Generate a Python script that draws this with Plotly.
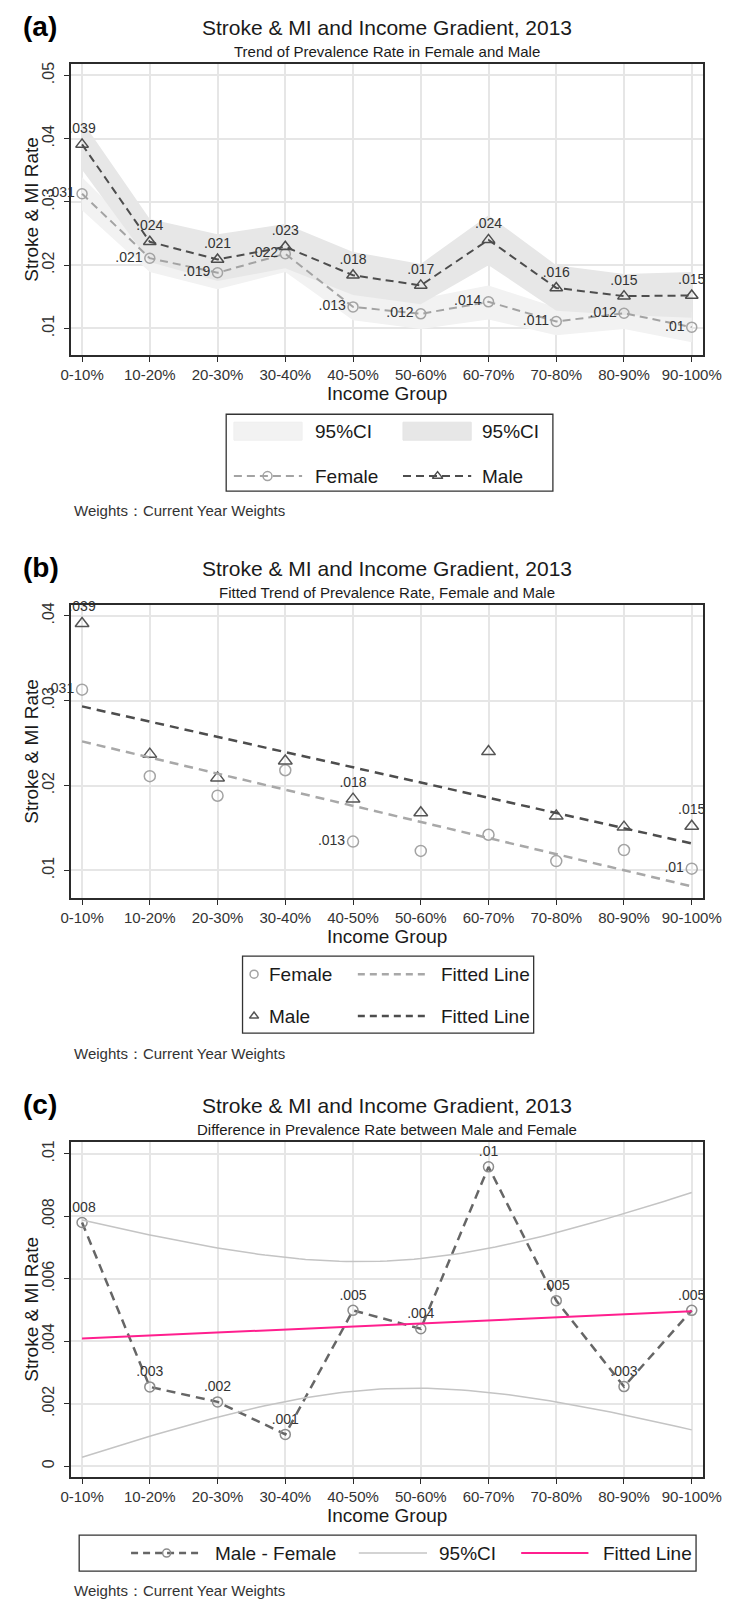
import numpy as np
import plotly.graph_objects as go

W, H = 741, 1599
FONT = "Liberation Sans, Arial, Helvetica, sans-serif"

# ---------------------------------------------------------------- data
income_groups = ["0-10%", "10-20%", "20-30%", "30-40%", "40-50%",
                 "50-60%", "60-70%", "70-80%", "80-90%", "90-100%"]

female_rate = [0.0313, 0.0211, 0.0188, 0.0218, 0.0134, 0.0123, 0.0142, 0.0111, 0.0124, 0.0102]
male_rate = [0.0391, 0.0237, 0.0209, 0.0229, 0.0184, 0.0168, 0.0240, 0.0164, 0.0151, 0.0152]

female_ci_low = [0.0287, 0.0189, 0.0162, 0.0189, 0.0113, 0.0099, 0.0114, 0.0089, 0.0099, 0.0078]
female_ci_high = [0.0339, 0.0233, 0.0214, 0.0247, 0.0155, 0.0147, 0.0168, 0.0133, 0.0149, 0.0126]
male_ci_low = [0.0351, 0.0205, 0.0175, 0.0195, 0.0153, 0.0138, 0.0200, 0.0128, 0.0121, 0.0117]
male_ci_high = [0.0428, 0.0273, 0.0249, 0.0265, 0.0221, 0.0202, 0.0279, 0.0200, 0.0186, 0.0189]

male_minus_female = [0.0078, 0.00254, 0.00206, 0.00102, 0.00499, 0.0044, 0.00958, 0.0053, 0.00255, 0.00499]

labelled_in_b = [0, 4, 9]          # points carrying a value label in panel (b)
T_CRIT_DF8 = 2.306                 # t(0.975, 8) for the lfitci band

yticks_a = [0.01, 0.02, 0.03, 0.04, 0.05]
yticks_b = [0.01, 0.02, 0.03, 0.04]
yticks_c = [0, 0.002, 0.004, 0.006, 0.008, 0.01]

title_main = "Stroke & MI and Income Gradient, 2013"
subtitles = ["Trend of Prevalence Rate in Female and Male",
             "Fitted Trend of Prevalence Rate, Female and Male",
             "Difference in Prevalence Rate between Male and Female"]
panel_tags = ["(a)", "(b)", "(c)"]
x_title = "Income Group"
y_title = "Stroke & MI Rate"
note_text = "Weights\uff1aCurrent Year Weights"


def stata_fmt(v):
    """Stata-like value label: .039, .01, 0"""
    if abs(v) < 1e-12:
        return "0"
    s = f"{v:.3f}".rstrip("0").rstrip(".")
    return s[1:] if s.startswith("0") else s


# ---------------------------------------------------------------- geometry (pixels)
PLOT_L, PLOT_R = 63, 721
panel_px = [(61, 353), (603, 897), (1141, 1477)]   # top, bottom of each plot frame
y_ranges = [[0.00574, 0.05183], [0.00671, 0.04129], [-0.00035, 0.01038]]
x_range = [-0.17, 9.163]

def xp(px):
    return px / W

def yp(py):
    return 1 - py / H

xs = np.arange(len(income_groups))

fig = go.Figure()

LABEL_FONT = dict(family=FONT, size=14, color="#333333")
FEMALE_C = "#a3a3a3"
MALE_C = "#4d4d4d"

# ---------------------------------------------------------------- panel (a)
band_x = list(xs) + list(xs[::-1])
fig.add_trace(go.Scatter(
    x=band_x, y=female_ci_high + female_ci_low[::-1], fill="toself",
    fillcolor="#f2f2f2", line=dict(width=0), mode="lines",
    hoverinfo="skip", xaxis="x", yaxis="y"))
fig.add_trace(go.Scatter(
    x=band_x, y=male_ci_high + male_ci_low[::-1], fill="toself",
    fillcolor="#e7e7e7", line=dict(width=0), mode="lines",
    hoverinfo="skip", xaxis="x", yaxis="y"))
fig.add_trace(go.Scatter(
    x=xs, y=female_rate, mode="lines+markers+text", cliponaxis=False,
    line=dict(color=FEMALE_C, width=2, dash="8px,5px"),
    marker=dict(symbol="circle-open", size=10, color=FEMALE_C, line=dict(width=1.5)),
    text=[stata_fmt(v) for v in female_rate], textposition="middle left",
    textfont=LABEL_FONT, xaxis="x", yaxis="y"))
fig.add_trace(go.Scatter(
    x=xs, y=male_rate, mode="lines+markers+text", cliponaxis=False,
    line=dict(color=MALE_C, width=2, dash="8px,5px"),
    marker=dict(symbol="triangle-up-open", size=11, color=MALE_C, line=dict(width=1.5)),
    text=[stata_fmt(v) for v in male_rate], textposition="top center",
    textfont=LABEL_FONT, xaxis="x", yaxis="y"))

# ---------------------------------------------------------------- panel (b)
fit_f = np.polyfit(xs, female_rate, 1)
fit_m = np.polyfit(xs, male_rate, 1)
fig.add_trace(go.Scatter(
    x=xs, y=female_rate, mode="markers+text", cliponaxis=False,
    marker=dict(symbol="circle-open", size=11, color=FEMALE_C, line=dict(width=1.5)),
    text=[stata_fmt(v) if i in labelled_in_b else "" for i, v in enumerate(female_rate)],
    textposition="middle left", textfont=LABEL_FONT, xaxis="x2", yaxis="y2"))
fig.add_trace(go.Scatter(
    x=xs, y=male_rate, mode="markers+text", cliponaxis=False,
    marker=dict(symbol="triangle-up-open", size=12, color="#555555", line=dict(width=1.5)),
    text=[stata_fmt(v) if i in labelled_in_b else "" for i, v in enumerate(male_rate)],
    textposition="top center", textfont=LABEL_FONT, xaxis="x2", yaxis="y2"))
fig.add_trace(go.Scatter(
    x=xs, y=np.polyval(fit_f, xs), mode="lines",
    line=dict(color="#a8a8a8", width=2.5, dash="9px,6px"),
    hoverinfo="skip", xaxis="x2", yaxis="y2"))
fig.add_trace(go.Scatter(
    x=xs, y=np.polyval(fit_m, xs), mode="lines",
    line=dict(color="#4d4d4d", width=2.5, dash="9px,6px"),
    hoverinfo="skip", xaxis="x2", yaxis="y2"))

# ---------------------------------------------------------------- panel (c)
d = np.asarray(male_minus_female)
fit_d = np.polyfit(xs, d, 1)
resid = d - np.polyval(fit_d, xs)
n = len(d)
s = np.sqrt(np.sum(resid ** 2) / (n - 2))
sxx = np.sum((xs - xs.mean()) ** 2)
xg = np.linspace(0, 9, 91)
yg = np.polyval(fit_d, xg)
half = T_CRIT_DF8 * s * np.sqrt(1 / n + (xg - xs.mean()) ** 2 / sxx)

fig.add_trace(go.Scatter(
    x=xs, y=male_minus_female, mode="lines+markers+text", cliponaxis=False,
    line=dict(color="#666666", width=2.5, dash="9px,6px"),
    marker=dict(symbol="circle-open", size=10, color="#8c8c8c", line=dict(width=1.5)),
    text=[stata_fmt(v) for v in male_minus_female], textposition="top center",
    textfont=LABEL_FONT, xaxis="x3", yaxis="y3"))
for band in (yg + half, yg - half):
    fig.add_trace(go.Scatter(
        x=xg, y=band, mode="lines", line=dict(color="#c4c4c4", width=1.5),
        hoverinfo="skip", xaxis="x3", yaxis="y3"))
fig.add_trace(go.Scatter(
    x=xg, y=yg, mode="lines", line=dict(color="#ff1f8e", width=2),
    hoverinfo="skip", xaxis="x3", yaxis="y3"))

# ---------------------------------------------------------------- legend keys (pixel overlay)
def key_line(x0, x1, y, color, width, dash="8px,5px"):
    fig.add_trace(go.Scatter(x=[x0, x1], y=[y, y], mode="lines",
                             line=dict(color=color, width=width, dash=dash),
                             hoverinfo="skip", xaxis="x4", yaxis="y4"))

def key_marker(x, y, symbol, color, size):
    fig.add_trace(go.Scatter(x=[x], y=[y], mode="markers",
                             marker=dict(symbol=symbol, size=size, color=color,
                                         line=dict(width=1.5)),
                             hoverinfo="skip", xaxis="x4", yaxis="y4"))

shapes = []
annotations = []

def box(x0, y0, x1, y1, line="#333333", fill="rgba(0,0,0,0)", lw=1.3):
    shapes.append(dict(type="rect", xref="x4", yref="y4", x0=x0, y0=y0, x1=x1, y1=y1,
                       line=dict(color=line, width=lw), fillcolor=fill, layer="above"))

def text(x, y, s, size, anchor="left", color="#1a1a1a", angle=0):
    annotations.append(dict(x=x, y=y, xref="x4", yref="y4", text=s, showarrow=False,
                            xanchor=anchor, yanchor="middle", textangle=angle,
                            font=dict(family=FONT, size=size, color=color)))

# (a)
box(225, 412, 565, 489)
box(233, 420, 304, 438, line="#efefef", fill="#f2f2f2", lw=1)
box(409, 420, 480, 438, line="#e4e4e4", fill="#e7e7e7", lw=1)
text(315, 429, "95%CI", 19)
text(489, 429, "95%CI", 19)
key_line(233, 304, 474, FEMALE_C, 2)
key_marker(268, 474, "circle-open", FEMALE_C, 9)
key_line(409, 480, 474, MALE_C, 2)
key_marker(445, 474, "triangle-up-open", MALE_C, 9)
text(315, 474, "Female", 19)
text(489, 474, "Male", 19)

# (b)
box(242, 955, 545, 1032)
key_marker(254, 973, "circle-open", FEMALE_C, 8)
text(267, 973, "Female", 19)
key_line(362, 434, 973, "#a8a8a8", 2.5, "7px,5px")
text(446, 973, "Fitted Line", 19)
key_marker(254, 1015, "triangle-up-open", "#555555", 8)
text(267, 1015, "Male", 19)
key_line(362, 434, 1015, "#4d4d4d", 2.5, "7px,5px")
text(446, 1015, "Fitted Line", 19)

# (c)
box(72, 1535, 714, 1571)
key_line(126, 199, 1553, "#666666", 2.5, "7px,5px")
key_marker(163, 1553, "circle-open", "#8c8c8c", 8)
text(211, 1553, "Male - Female", 19)
key_line(363, 434, 1553, "#c4c4c4", 1.5, "solid")
text(444, 1553, "95%CI", 19)
key_line(532, 602, 1553, "#ff1f8e", 2, "solid")
text(615, 1553, "Fitted Line", 19)

# titles, axis titles, notes
cx = (PLOT_L + PLOT_R) / 2
note_y = [508, 1052, 1590]
for i, (top, bot) in enumerate(panel_px):
    text(11, top - 37, "<b>" + panel_tags[i] + "</b>", 28, color="#000000")
    text(cx, top - 36, title_main, 21, anchor="center")
    text(cx, top - 12, subtitles[i], 15, anchor="center")
    text(cx, bot + 38, x_title, 19, anchor="center")
    text(22, (top + bot) / 2, y_title, 19, anchor="center", angle=-90)
    text(64, note_y[i], note_text, 15, color="#333333")

# ---------------------------------------------------------------- axes
axis_common = dict(showline=True, linecolor="#2b2b2b", linewidth=1.5, mirror=True,
                   ticks="outside", ticklen=5, tickwidth=1.3, tickcolor="#2b2b2b",
                   showgrid=True, gridcolor="#e6e6e6", gridwidth=1.5, zeroline=False,
                   tickfont=dict(family=FONT, size=15, color="#333333"))

layout_axes = {}
ytick_sets = [yticks_a, yticks_b, yticks_c]
for i, (top, bot) in enumerate(panel_px):
    sfx = "" if i == 0 else str(i + 1)
    layout_axes["xaxis" + sfx] = dict(
        axis_common, domain=[xp(PLOT_L), xp(PLOT_R)], range=x_range,
        tickmode="array", tickvals=list(xs), ticktext=income_groups,
        anchor="y" + sfx)
    layout_axes["yaxis" + sfx] = dict(
        axis_common, domain=[yp(bot), yp(top)], range=y_ranges[i],
        tickmode="array", tickvals=ytick_sets[i],
        ticktext=[stata_fmt(v) for v in ytick_sets[i]], tickangle=-90,
        tickfont=dict(family=FONT, size=16, color="#333333"),
        ticklabelstandoff=3, anchor="x" + sfx)

layout_axes["xaxis4"] = dict(domain=[0, 1], range=[0, W], visible=False,
                             showgrid=False, zeroline=False, anchor="y4")
layout_axes["yaxis4"] = dict(domain=[0, 1], range=[H, 0], visible=False,
                             showgrid=False, zeroline=False, anchor="x4")

fig.update_layout(
    width=W, height=H, autosize=False,
    margin=dict(l=0, r=0, t=0, b=0),
    paper_bgcolor="white", plot_bgcolor="rgba(0,0,0,0)",
    showlegend=False,
    font=dict(family=FONT, color="#1a1a1a"),
    shapes=shapes, annotations=annotations,
    **layout_axes)

fig.write_html("out.html")
